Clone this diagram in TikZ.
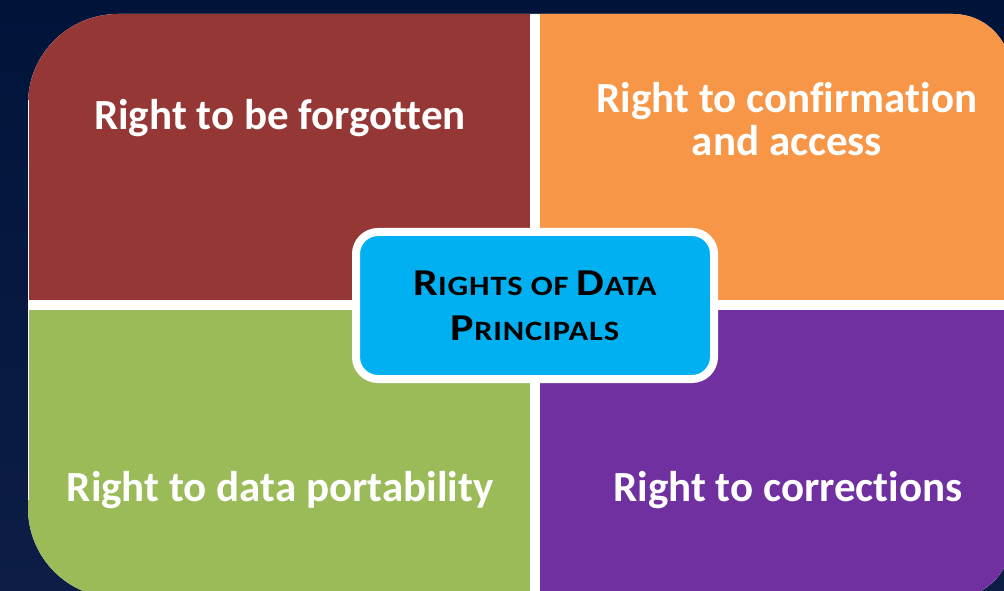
\documentclass[tikz,border=0pt]{standalone}
\usepackage{fontspec}
\setmainfont{Carlito}[Ligatures={NoCommon,NoContextual}]
\newfontfamily\hubfont{Carlito}[Ligatures={NoCommon,NoContextual}, FakeStretch=1.16, LetterSpace=3]
\definecolor{navytop}{RGB}{0,20,58}
\definecolor{navybot}{RGB}{13,29,70}
\definecolor{forgotred}{RGB}{149,55,53}
\definecolor{accessorange}{RGB}{247,150,70}
\definecolor{portgreen}{RGB}{155,187,89}
\definecolor{corrpurple}{RGB}{112,48,160}
\definecolor{hubcyan}{RGB}{0,176,240}
\newcommand{\smcap}[2]{{\fontsize{38}{45}\selectfont #1}#2}

\begin{document}
\begin{tikzpicture}[x=1pt, y=1pt,
    quad/.style={rectangle, inner sep=0pt, minimum width=560pt, minimum height=340pt},
    rightlabel/.style={text=white, font=\fontsize{43}{43}\selectfont\bfseries, align=center, inner sep=0pt},
    hubbox/.style={rectangle, rounded corners=22pt, draw=white, line width=8pt, fill=hubcyan,
        minimum width=358pt, minimum height=147pt, align=center, inner sep=0pt,
        font=\hubfont\fontsize{28}{45}\selectfont\bfseries}]
    \useasboundingbox (0,0) rectangle (1004,590);
    \shade[top color=navytop, bottom color=navybot] (0,0) rectangle (1004,590);
    \fill[navytop] (0,576) rectangle (1004,590);

    \begin{scope}
        \clip (28,82) -- (28,486) arc[start angle=180, end angle=90, radius=90]
            -- (953,576) arc[start angle=90, end angle=0, radius=58]
            -- (1011,50) arc[start angle=0, end angle=-90, radius=58]
            -- (118,-8) arc[start angle=270, end angle=180, radius=90] -- cycle;
        \fill[white] (0,-20) rectangle (1020,600);
        \node[quad, fill=forgotred, anchor=south east] (forgot) at (530.5,289.5) {};
        \node[quad, fill=accessorange, anchor=south west] (access) at (539.5,289.5) {};
        \node[quad, fill=portgreen, anchor=north east] (portab) at (530.5,280.5) {};
        \node[quad, fill=corrpurple, anchor=north west] (correct) at (539.5,280.5) {};
    \end{scope}
    \draw[white, line width=1.2pt] (28.6,90) -- (28.6,490);

    \node[rightlabel] (forgottxt) at (280,472) {Right to be forgotten};
    \node[rightlabel] (accesstxt) at (787,471) {Right to confirmation\\and access};
    \node[rightlabel] (portabtxt) at (280,100) {Right to data portability};
    \node[rightlabel] (correcttxt) at (788,100) {Right to corrections};

    \node[hubbox] (hub) at (535,284.5)
        {\smcap{R}{IGHTS OF} \smcap{D}{ATA}\\\smcap{P}{RINCIPALS}};
\end{tikzpicture}
\end{document}
